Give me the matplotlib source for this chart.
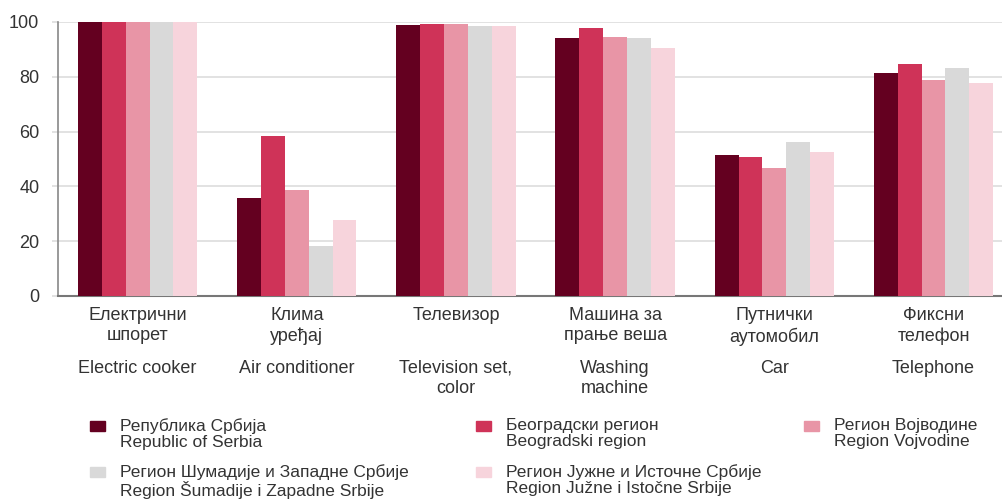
import numpy as np
import matplotlib
matplotlib.use('Agg')
import matplotlib.pyplot as plt
from matplotlib.patches import Rectangle

plt.rcParams['font.family'] = ['Liberation Sans', 'DejaVu Sans']

# категорије (ћирилица) и English
labels_sr = ['Електрични\nшпорет', 'Клима\nуређај', 'Телевизор',
             'Машина за\nпрање веша', 'Путнички\nаутомобил', 'Фиксни\nтелефон']
labels_en = ['Electric cooker', 'Air conditioner', 'Television set,\ncolor',
             'Washing\nmachine', 'Car', 'Telephone']

# региони
series_names = ['Република Србија\nRepublic of Serbia',
                'Београдски регион\nBeogradski region',
                'Регион Војводине\nRegion Vojvodine',
                'Регион Шумадије и Западне Србије\nRegion Šumadije i Zapadne Srbije',
                'Регион Јужне и Источне Србије\nRegion Južne i Istočne Srbije']

serbia    = [99.9, 35.8, 98.9, 94.3, 51.5, 81.3]
beograd   = [99.9, 58.5, 99.3, 97.7, 50.9, 84.5]
vojvodina = [99.9, 38.7, 99.3, 94.4, 46.6, 78.8]
sumadija  = [100.0, 18.1, 98.4, 94.0, 56.2, 83.2]
juzna     = [99.9, 27.7, 98.4, 90.6, 52.7, 77.8]

colors = ['#640020', '#cf3358', '#e895a6', '#d9d9d9', '#f7d4dc']
text_col = '#333333'

W, H = 1002, 499
fig = plt.figure(figsize=(W / 100, H / 100), dpi=100)
ax = fig.add_axes([58 / W, 1 - 296 / H, 1 - 58 / W, (296 - 22) / H])

x = np.arange(len(labels_sr))
bw = 0.75 / 5
data = [serbia, beograd, vojvodina, sumadija, juzna]
for i, vals in enumerate(data):
    ax.bar(x + (i - 2) * bw, vals, width=bw, color=colors[i], zorder=3)

ax.set_xlim(-0.5, 5.43)
ax.set_ylim(0, 100)
ax.set_yticks([0, 20, 40, 60, 80, 100])
ax.grid(axis='y', color='#dddddd', linewidth=1.2, zorder=0)
ax.tick_params(axis='y', length=4.5, color='#dddddd', width=1.2, pad=9,
               labelsize=13, labelcolor=text_col)

for s in ['top', 'right']:
    ax.spines[s].set_visible(False)
ax.spines['left'].set_color('#888888')
ax.spines['bottom'].set_color('#777777')
ax.spines['left'].set_linewidth(1.2)
ax.spines['bottom'].set_linewidth(1.5)

# две врсте ознака на x оси
ax.xaxis.remove_overlapping_locs = False
ax.set_xticks(x)
ax.set_xticklabels(labels_sr, fontsize=13, color=text_col, linespacing=1.25)
ax.set_xticks(x, minor=True)
ax.set_xticklabels(labels_en, minor=True, fontsize=13, color=text_col, linespacing=1.25)
ax.tick_params(axis='x', which='major', length=0, pad=8)
ax.tick_params(axis='x', which='minor', length=0, pad=46)

# легенда
leg_pos = [(90, 421), (476, 421), (804, 421), (90, 467), (476, 467)]
for (px, py), name, c in zip(leg_pos, series_names, colors):
    fig.patches.append(Rectangle((px / W, 1 - (py + 10) / H), 15 / W, 10 / H,
                                 transform=fig.transFigure, color=c))
    fig.text((px + 30) / W, 1 - (py - 3) / H, name, fontsize=12.5, color=text_col,
             va='top', ha='left', linespacing=1.1)

fig.savefig('out.png', dpi=100)
